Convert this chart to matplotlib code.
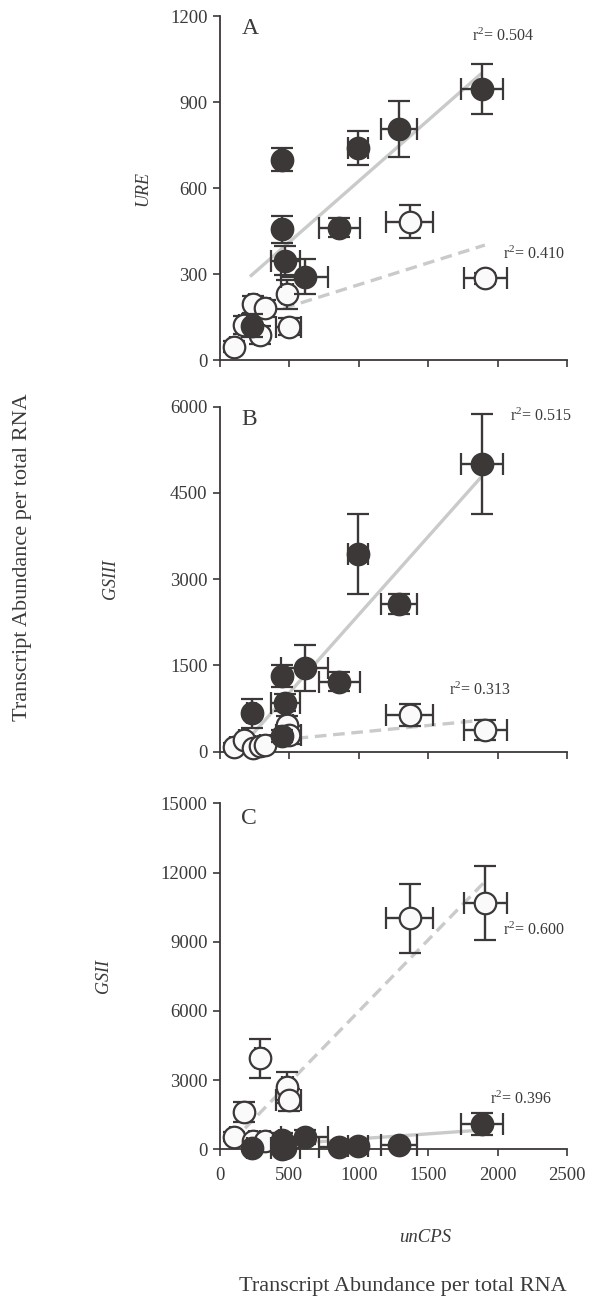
import matplotlib
matplotlib.use("Agg")
import matplotlib.pyplot as plt

plt.rcParams['font.family'] = ['Liberation Serif', 'DejaVu Serif']
plt.rcParams['mathtext.fontset'] = 'custom'
plt.rcParams['mathtext.rm'] = 'Liberation Serif'
plt.rcParams['mathtext.it'] = 'Liberation Serif:italic'

dark = "#3d3838"
txt = "#3a3a3a"
fitgrey = "#c9cbc9"

# unCPS abundance (x) shared by all panels
x_filled = [228, 444, 444, 470, 610, 860, 995, 1290, 1890]
xerr_filled = [30, 20, 20, 105, 170, 150, 75, 132, 150]
x_open = [100, 170, 240, 285, 324, 485, 495, 1366, 1912]
xerr_open = [25, 30, 30, 30, 35, 40, 90, 172, 156]

# panel A - URE
ure_filled = [119, 698, 456, 347, 291, 462, 741, 805, 944]
ure_filled_err = [40, 40, 48, 50, 60, 33, 59, 98, 87]
ure_open = [47, 122, 195, 87, 180, 229, 116, 483, 285]
ure_open_err = [20, 30, 30, 30, 30, 50, 30, 56, 20]

# panel B - GSIII
gs3_filled = [667, 1316, 273, 852, 1449, 1217, 3438, 2568, 5003]
gs3_filled_err = [250, 190, 100, 150, 400, 160, 700, 174, 877]
gs3_open = [87, 203, 70, 100, 117, 464, 290, 638, 377]
gs3_open_err = [60, 60, 60, 60, 60, 150, 150, 197, 174]

# panel C - GSII
gs2_filled = [43, 405, 20, 60, 549, 116, 159, 188, 1099]
gs2_filled_err = [100, 300, 100, 100, 300, 100, 100, 100, 460]
gs2_open = [549, 1634, 376, 3947, 376, 2689, 2140, 10019, 10698]
gs2_open_err = [200, 434, 200, 845, 200, 680, 463, 1504, 1605]

# regression line end points (solid = filled, dashed = open)
fit_solid_x = {"A": [216, 1885], "B": [240, 1885], "C": [216, 1897]}
fit_solid_y = {"A": [291, 1000], "B": [319, 4783], "C": [116, 839]}
fit_dash_x = {"A": [456, 1909], "B": [552, 1909], "C": [180, 1921]}
fit_dash_y = {"A": [180, 401], "B": [232, 551], "C": [911, 11681]}

r2_solid = {"A": "0.504", "B": "0.515", "C": "0.396"}
r2_dash = {"A": "0.410", "B": "0.313", "C": "0.600"}
r2_solid_pos = {"A": (1813, 1130), "B": (2089, 5838), "C": (1945, 2180)}
r2_dash_pos = {"A": (2036, 370), "B": (1652, 1061), "C": (2041, 9510)}

panels = [
    ("A", "URE", ure_filled, ure_filled_err, ure_open, ure_open_err,
     [0, 300, 600, 900, 1200], 1157),
    ("B", "GSIII", gs3_filled, gs3_filled_err, gs3_open, gs3_open_err,
     [0, 1500, 3000, 4500, 6000], 5781),
    ("C", "GSII", gs2_filled, gs2_filled_err, gs2_open, gs2_open_err,
     [0, 3000, 6000, 9000, 12000, 15000], 14350),
]

fig = plt.figure(figsize=(5.92, 13.02), dpi=100)
bottoms = [0.7235, 0.4227, 0.1173]
heights = [0.2642, 0.265, 0.2657]


def no_clip(container):
    for art in container.get_children():
        art.set_clip_on(False)


for i, (tag, gene, yf, yfe, yo, yoe, yticks, letter_y) in enumerate(panels):
    ax = fig.add_axes([0.3716, bottoms[i], 0.586, heights[i]])

    ax.plot(fit_solid_x[tag], fit_solid_y[tag], color=fitgrey, lw=2.4,
            solid_capstyle="butt", zorder=1)
    ax.plot(fit_dash_x[tag], fit_dash_y[tag], color=fitgrey, lw=2.4,
            dashes=(3.5, 2), zorder=1)

    eo = ax.errorbar(x_open, yo, yerr=yoe, xerr=xerr_open, fmt="o", ms=15.5,
                     mfc="#fafafa", mec=dark, mew=1.6, ecolor=dark,
                     elinewidth=1.7, capsize=8, capthick=1.7, zorder=3)
    ef = ax.errorbar(x_filled, yf, yerr=yfe, xerr=xerr_filled, fmt="o",
                     ms=15.5, mfc=dark, mec=dark, mew=1.6, ecolor=dark,
                     elinewidth=1.7, capsize=8, capthick=1.7, zorder=4)
    no_clip(eo)
    no_clip(ef)

    ax.set_xlim(0, 2500)
    ax.set_ylim(0, yticks[-1])
    ax.set_xticks([0, 500, 1000, 1500, 2000, 2500])
    ax.set_yticks(yticks)
    if tag != "C":
        ax.set_xticklabels([])
    for s in ["top", "right"]:
        ax.spines[s].set_visible(False)
    for s in ["left", "bottom"]:
        ax.spines[s].set_color(dark)
        ax.spines[s].set_linewidth(1.3)
    ax.tick_params(direction="out", length=5, width=1.2, color=dark,
                   labelcolor=txt, labelsize=13.5, pad=4)
    ax.tick_params(axis="x", pad=8)
    ax.patch.set_alpha(0)

    ax.text(216 if tag == "A" else 211, letter_y, tag, fontsize=17,
            ha="center", va="center", color=txt)
    sx, sy = r2_solid_pos[tag]
    ax.text(sx, sy, "r$^2$= " + r2_solid[tag], fontsize=11.5, ha="left",
            va="center", color=txt)
    dx, dy = r2_dash_pos[tag]
    ax.text(dx, dy, "r$^2$= " + r2_dash[tag], fontsize=11.5, ha="left",
            va="center", color=txt)

    label_x = {"A": 143, "B": 110, "C": 103}[tag]
    ax.text((label_x - 220) / 347, 0.5, gene, transform=ax.transAxes,
            rotation=90, style="italic", fontsize=13, ha="center",
            va="center", color=txt)

fig.text(23 / 592, 1 - 557 / 1302, "Transcript Abundance per total RNA",
         rotation=90, fontsize=16, ha="center", va="center", color=txt)
fig.text(425 / 592, 1 - 1237 / 1302, "unCPS", style="italic", fontsize=13.5,
         ha="center", va="center", color=txt)
fig.text(403 / 592, 1 - 1287 / 1302, "Transcript Abundance per total RNA",
         fontsize=16, ha="center", va="center", color=txt)

fig.savefig("out.png", dpi=100, facecolor="white")
